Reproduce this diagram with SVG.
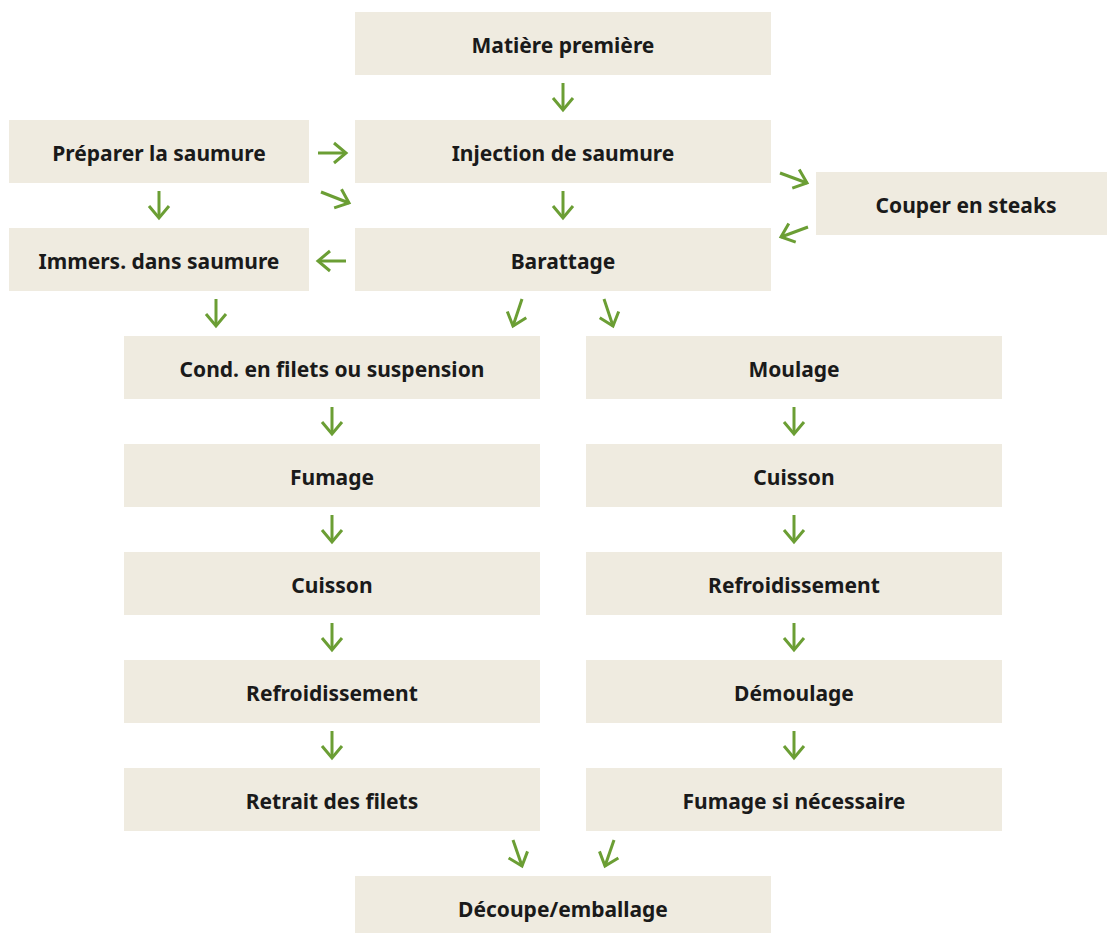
<svg xmlns="http://www.w3.org/2000/svg" width="1107" height="933" viewBox="0 0 1107 933">
<style>
.n rect{fill:#efebe0}
.n text{font-family:"Noto Sans","Liberation Sans",sans-serif;font-weight:700;font-size:21px;fill:#1a1a1a;text-anchor:middle;dominant-baseline:central}
#connectors line{stroke:#6b9e34;stroke-width:3;fill:none;marker-end:url(#ah)}
</style>
<defs>
<marker id="ah" markerUnits="userSpaceOnUse" markerWidth="30" markerHeight="30" viewBox="-16 -15 20 30" refX="0" refY="0" orient="auto">
<path d="M-12,-10 L0,0 L-12,10" fill="none" stroke="#6b9e34" stroke-width="3"/>
</marker>
</defs>
<rect width="1107" height="933" fill="#fff"/>
<g id="n1" class="n"><rect x="355" y="12" width="416" height="63"/><text x="563" y="45">Matière première</text></g>
<g id="n2" class="n"><rect x="9" y="120" width="300" height="63"/><text x="159" y="153">Préparer la saumure</text></g>
<g id="n3" class="n"><rect x="355" y="120" width="416" height="63"/><text x="563" y="153">Injection de saumure</text></g>
<g id="n4" class="n"><rect x="816" y="172" width="291" height="63"/><text x="966" y="205">Couper en steaks</text></g>
<g id="n5" class="n"><rect x="9" y="228" width="300" height="63"/><text x="159" y="261">Immers. dans saumure</text></g>
<g id="n6" class="n"><rect x="355" y="228" width="416" height="63"/><text x="563" y="261">Barattage</text></g>
<g id="n7" class="n"><rect x="124" y="336" width="416" height="63"/><text x="332" y="369">Cond. en filets ou suspension</text></g>
<g id="n8" class="n"><rect x="586" y="336" width="416" height="63"/><text x="794" y="369">Moulage</text></g>
<g id="n9" class="n"><rect x="124" y="444" width="416" height="63"/><text x="332" y="477">Fumage</text></g>
<g id="n10" class="n"><rect x="586" y="444" width="416" height="63"/><text x="794" y="477">Cuisson</text></g>
<g id="n11" class="n"><rect x="124" y="552" width="416" height="63"/><text x="332" y="585">Cuisson</text></g>
<g id="n12" class="n"><rect x="586" y="552" width="416" height="63"/><text x="794" y="585">Refroidissement</text></g>
<g id="n13" class="n"><rect x="124" y="660" width="416" height="63"/><text x="332" y="693">Refroidissement</text></g>
<g id="n14" class="n"><rect x="586" y="660" width="416" height="63"/><text x="794" y="693">Démoulage</text></g>
<g id="n15" class="n"><rect x="124" y="768" width="416" height="63"/><text x="332" y="801">Retrait des filets</text></g>
<g id="n16" class="n"><rect x="586" y="768" width="416" height="63"/><text x="794" y="801">Fumage si nécessaire</text></g>
<g id="n17" class="n"><rect x="355" y="876" width="416" height="57"/><text x="563" y="909">Découpe/emballage</text></g>
<g id="connectors">
<line x1="563" y1="83" x2="563" y2="110"/>
<line x1="563" y1="191" x2="563" y2="218"/>
<line x1="159" y1="191" x2="159" y2="218"/>
<line x1="318" y1="153" x2="346" y2="153"/>
<line x1="321" y1="192" x2="349" y2="203"/>
<line x1="780" y1="173" x2="807" y2="183"/>
<line x1="808" y1="227" x2="781" y2="237"/>
<line x1="346" y1="261" x2="318" y2="261"/>
<line x1="216" y1="299" x2="216" y2="326"/>
<line x1="522" y1="299" x2="513" y2="326"/>
<line x1="604" y1="299" x2="613" y2="326"/>
<line x1="332" y1="407" x2="332" y2="434"/>
<line x1="794" y1="407" x2="794" y2="434"/>
<line x1="332" y1="515" x2="332" y2="542"/>
<line x1="794" y1="515" x2="794" y2="542"/>
<line x1="332" y1="623" x2="332" y2="650"/>
<line x1="794" y1="623" x2="794" y2="650"/>
<line x1="332" y1="731" x2="332" y2="758"/>
<line x1="794" y1="731" x2="794" y2="758"/>
<line x1="513" y1="840" x2="522" y2="866"/>
<line x1="614" y1="840" x2="605" y2="866"/>
</g>
</svg>
